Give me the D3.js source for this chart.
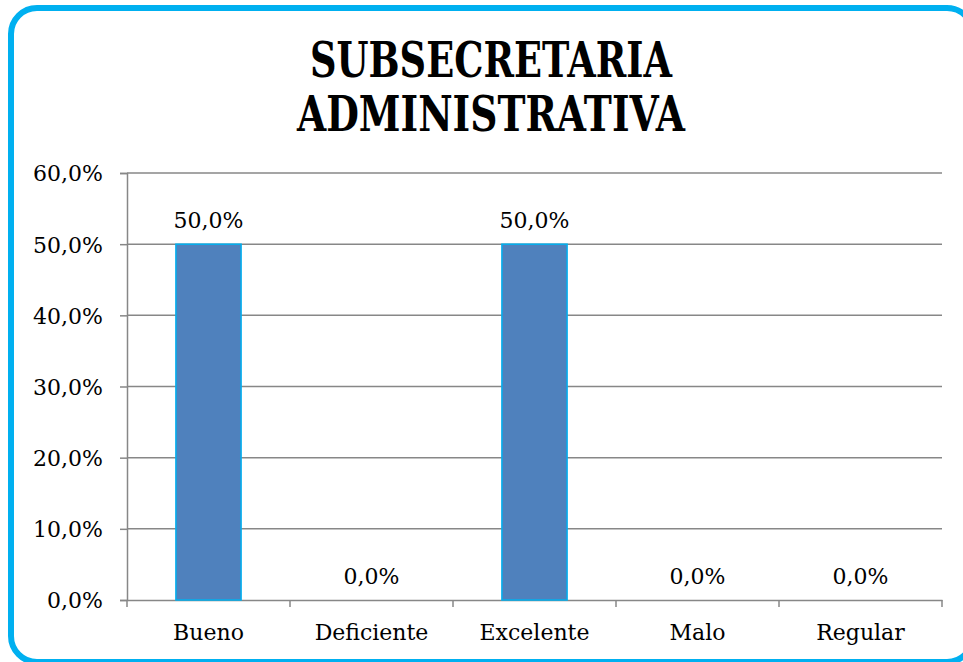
<!DOCTYPE html>
<html>
<head>
<meta charset="utf-8">
<script src="https://cdn.jsdelivr.net/npm/d3@7"></script>
<style>
  body { margin: 0; background: #fff; }
  text { font-family: "DejaVu Serif", serif; fill: #000; }
</style>
</head>
<body>
<svg id="chart" width="963" height="662"></svg>
<script>
const categories = ['Bueno', 'Deficiente', 'Excelente', 'Malo', 'Regular'];
const values = [0.5, 0, 0.5, 0, 0];
const yTicks = [0, 0.1, 0.2, 0.3, 0.4, 0.5, 0.6];
const titleLines = ['SUBSECRETARIA', 'ADMINISTRATIVA'];

const svg = d3.select('#chart');
const pct = d => d3.format('.1f')(d * 100).replace('.', ',') + '%';
const labelFont = '"DejaVu Serif", serif';

// outer rounded frame
svg.append('rect')
    .attr('x', 11).attr('y', 8)
    .attr('width', 962).attr('height', 654)
    .attr('rx', 26)
    .attr('fill', '#fff')
    .attr('stroke', '#00b0f0')
    .attr('stroke-width', 6);

const titleWidths = [362, 388];
svg.selectAll('.title')
    .data(titleLines)
    .enter()
    .append('text')
    .attr('class', 'title')
    .attr('x', 491)
    .attr('y', (d, i) => 77 + i * 54)
    .attr('text-anchor', 'middle')
    .attr('font-size', 49)
    .attr('font-weight', 'bold')
    .attr('textLength', (d, i) => titleWidths[i])
    .attr('lengthAdjust', 'spacingAndGlyphs')
    .text(d => d);

const x = d3.scaleBand().domain(categories).range([127, 942]).paddingInner(0).paddingOuter(0);
const y = d3.scaleLinear().domain([0, 0.6]).range([600, 173]);

// gridlines
svg.selectAll('.grid')
    .data(yTicks.slice(1))
    .enter()
    .append('line')
    .attr('x1', 127).attr('x2', 942)
    .attr('y1', d => y(d)).attr('y2', d => y(d))
    .attr('stroke', '#878787')
    .attr('stroke-width', 1.5);

// y axis
const yAxis = svg.append('g')
    .attr('transform', 'translate(127,0)')
    .call(d3.axisLeft(y).tickValues(yTicks).tickFormat(pct).tickSize(7).tickPadding(17));
yAxis.selectAll('line, path').attr('stroke', '#878787').attr('stroke-width', 1.5);
yAxis.selectAll('text').attr('font-size', 22).attr('dy', '0.36em')
    .style('font-family', labelFont);

// x axis
const xAxis = svg.append('g')
    .attr('transform', 'translate(0,600)')
    .call(d3.axisBottom(x).tickSize(0).tickPadding(24));
xAxis.select('.domain').attr('stroke', '#878787').attr('stroke-width', 1.5);
xAxis.selectAll('text').attr('font-size', 22)
    .style('font-family', labelFont);
svg.selectAll('.xtick')
    .data(categories.concat(['end']))
    .enter()
    .append('line')
    .attr('x1', (d, i) => i < categories.length ? x(d) : x.range()[1])
    .attr('x2', (d, i) => i < categories.length ? x(d) : x.range()[1])
    .attr('y1', 600).attr('y2', 607)
    .attr('stroke', '#878787')
    .attr('stroke-width', 1.5);

// bars
const barW = x.bandwidth() * 0.4;
svg.selectAll('.bar')
    .data(values)
    .enter()
    .append('rect')
    .attr('x', (d, i) => x(categories[i]) + (x.bandwidth() - barW) / 2)
    .attr('y', d => y(d))
    .attr('width', barW)
    .attr('height', d => y(0) - y(d))
    .attr('fill', '#4f81bd')
    .attr('stroke', '#00b0f0')
    .attr('stroke-width', 1.5);

// value labels
svg.selectAll('.lbl')
    .data(values)
    .enter()
    .append('text')
    .attr('x', (d, i) => x(categories[i]) + x.bandwidth() / 2)
    .attr('y', d => y(d) - 16)
    .attr('text-anchor', 'middle')
    .attr('font-size', 22)
    .text(d => pct(d));
</script>
</body>
</html>
